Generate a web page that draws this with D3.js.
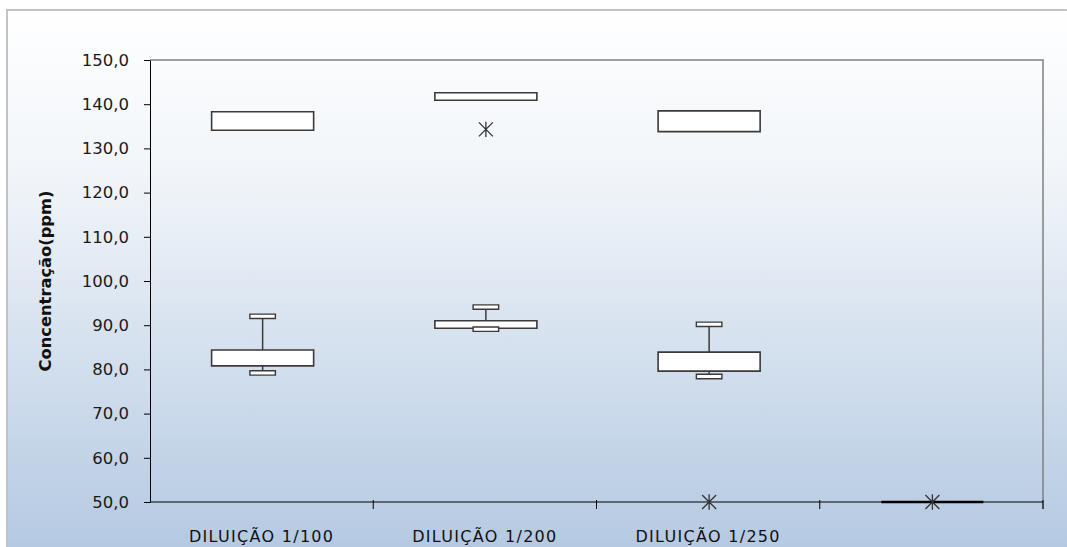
<!DOCTYPE html>
<html>
<head>
<meta charset="utf-8">
<script src="https://cdn.jsdelivr.net/npm/d3@7"></script>
<style>
  body { margin: 0; background: #fff; }
  svg { display: block; }
</style>
</head>
<body>
<script>
// values
const categories = ["DILUIÇÃO 1/100", "DILUIÇÃO 1/200", "DILUIÇÃO 1/250", ""];
const boxLow    = [80.8, 89.3, 79.6, 50.0];
const boxHigh   = [84.4, 91.0, 83.9, 50.0];
const capHigh   = [92.0, 94.1, 90.2, null];
const capLow    = [79.2, 89.1, 78.4, null];
const upperLow  = [134.1, 140.9, 133.8, null];
const upperHigh = [138.3, 142.6, 138.5, null];
const outlierCat = ["DILUIÇÃO 1/200", "DILUIÇÃO 1/250", ""];
const outlierVal = [134.3, 50.0, 50.0];
const yTicks = [50, 60, 70, 80, 90, 100, 110, 120, 130, 140, 150];

const W = 1067, H = 547;
const plot = { left: 150, right: 1043, top: 60, bottom: 502 };

const locale = d3.formatLocale({ decimal: ",", thousands: ".", grouping: [3], currency: ["", ""] });
const fmt = locale.format(".1f");

const svg = d3.select("body").append("svg")
    .attr("width", W)
    .attr("height", H);

// background gradient
const grad = svg.append("defs").append("linearGradient")
    .attr("id", "bg").attr("x1", 0).attr("y1", 0).attr("x2", 0).attr("y2", 1);
grad.append("stop").attr("offset", "0%").attr("stop-color", "#ffffff");
grad.append("stop").attr("offset", "30%").attr("stop-color", "#f1f5f9");
grad.append("stop").attr("offset", "100%").attr("stop-color", "#b3c8e1");

svg.append("rect")
    .attr("x", 7).attr("y", 10)
    .attr("width", W).attr("height", H)
    .attr("fill", "url(#bg)")
    .attr("stroke", "#c3c3c3")
    .attr("stroke-width", 2);

// SCALES
const x = d3.scaleBand().domain(categories).range([plot.left, plot.right]).padding(0);
const y = d3.scaleLinear().domain([50, 150]).range([plot.bottom, plot.top]);

const boxW = x.bandwidth() * 0.457;
const capW = boxW / 4;
const capHalf = 0.5; // cap height in data units / 2
const cx = i => x(categories[i]) + x.bandwidth() / 2 + 1;

// plot frame (top and right)
svg.append("path")
    .attr("d", `M${plot.left},${plot.top}H${plot.right}V${plot.bottom + 7}`)
    .attr("fill", "none")
    .attr("stroke", "#808080")
    .attr("stroke-width", 1.5);

// Y AXIS
const yAxis = svg.append("g")
    .attr("transform", `translate(${plot.left},0)`)
    .call(d3.axisLeft(y).tickValues(yTicks).tickFormat(fmt).tickSize(6).tickSizeOuter(0).tickPadding(15));
yAxis.select(".domain").attr("stroke", "#000");
yAxis.selectAll(".tick line").attr("stroke", "#000");
yAxis.selectAll("text")
    .attr("fill", "#1a1a1a")
    .style("font-family", "DejaVu Sans")
    .style("font-size", "16.5px");

svg.append("text")
    .attr("transform", `translate(45,${(plot.top + plot.bottom) / 2}) rotate(-90)`)
    .attr("text-anchor", "middle")
    .attr("dy", "0.35em")
    .style("font-family", "DejaVu Sans")
    .style("font-weight", "bold")
    .style("font-size", "16.3px")
    .attr("fill", "#111")
    .text("Concentração(ppm)");

// X AXIS
svg.append("line")
    .attr("x1", plot.left).attr("x2", plot.right)
    .attr("y1", plot.bottom).attr("y2", plot.bottom)
    .attr("stroke", "#000");

svg.selectAll(".xtick")
    .data(categories)
    .join("line")
    .attr("class", "xtick")
    .attr("x1", d => x(d) + x.bandwidth()).attr("x2", d => x(d) + x.bandwidth())
    .attr("y1", plot.bottom - 2).attr("y2", plot.bottom + 7)
    .attr("stroke", "#000");

svg.selectAll(".xlabel")
    .data(categories)
    .join("text")
    .attr("class", "xlabel")
    .attr("x", d => x(d) + x.bandwidth() / 2)
    .attr("y", 542)
    .attr("text-anchor", "middle")
    .style("font-family", "DejaVu Sans")
    .style("font-size", "16px")
    .style("letter-spacing", "1.3px")
    .attr("fill", "#111")
    .text(d => d);

// BOXES
const rectPath = (x0, w, v0, v1) => {
    const y0 = y(v1), h = y(v0) - y(v1);
    return `M${x0},${y0}h${w}v${h}h${-w}Z`;
};
const boxStroke = "#3a3a3a";

const idx = d3.range(categories.length);

// whiskers
svg.selectAll(".whisker-hi")
    .data(idx.filter(i => capHigh[i] != null))
    .join("line")
    .attr("x1", cx).attr("x2", cx)
    .attr("y1", i => y(boxHigh[i])).attr("y2", i => y(capHigh[i]))
    .attr("stroke", boxStroke).attr("stroke-width", 1.5);

svg.selectAll(".whisker-lo")
    .data(idx.filter(i => capLow[i] != null))
    .join("line")
    .attr("x1", cx).attr("x2", cx)
    .attr("y1", i => y(boxLow[i])).attr("y2", i => y(capLow[i]))
    .attr("stroke", boxStroke).attr("stroke-width", 1.5);

// upper boxes
svg.selectAll(".upper")
    .data(idx.filter(i => upperLow[i] != null))
    .join("path")
    .attr("d", i => rectPath(cx(i) - boxW / 2, boxW, upperLow[i], upperHigh[i]))
    .attr("fill", "#fff").attr("stroke", boxStroke).attr("stroke-width", 1.6);

// main boxes
svg.selectAll(".box")
    .data(idx)
    .join("path")
    .attr("d", i => rectPath(cx(i) - boxW / 2, boxW, boxLow[i], boxHigh[i]))
    .attr("fill", "#fff").attr("stroke", i => boxLow[i] === boxHigh[i] ? "#000" : boxStroke)
    .attr("stroke-width", i => boxLow[i] === boxHigh[i] ? 2.5 : 1.6);

// caps
svg.selectAll(".cap-hi")
    .data(idx.filter(i => capHigh[i] != null))
    .join("path")
    .attr("d", i => rectPath(cx(i) - capW / 2, capW, capHigh[i] - capHalf, capHigh[i] + capHalf))
    .attr("fill", "#fff").attr("stroke", boxStroke).attr("stroke-width", 1.4);

svg.selectAll(".cap-lo")
    .data(idx.filter(i => capLow[i] != null))
    .join("path")
    .attr("d", i => rectPath(cx(i) - capW / 2, capW, capLow[i] - capHalf, capLow[i] + capHalf))
    .attr("fill", "#fff").attr("stroke", boxStroke).attr("stroke-width", 1.4);

// outliers (star markers)
const star = r => `M${-r},${-r}L${r},${r}M${-r},${r}L${r},${-r}M0,${-r * 1.1}V${r * 1.1}`;
svg.selectAll(".outlier")
    .data(d3.range(outlierVal.length))
    .join("path")
    .attr("transform", i => `translate(${x(outlierCat[i]) + x.bandwidth() / 2 + 1},${y(outlierVal[i])})`)
    .attr("d", star(7))
    .attr("fill", "none")
    .attr("stroke", "#333")
    .attr("stroke-width", 1.3);
</script>
</body>
</html>
